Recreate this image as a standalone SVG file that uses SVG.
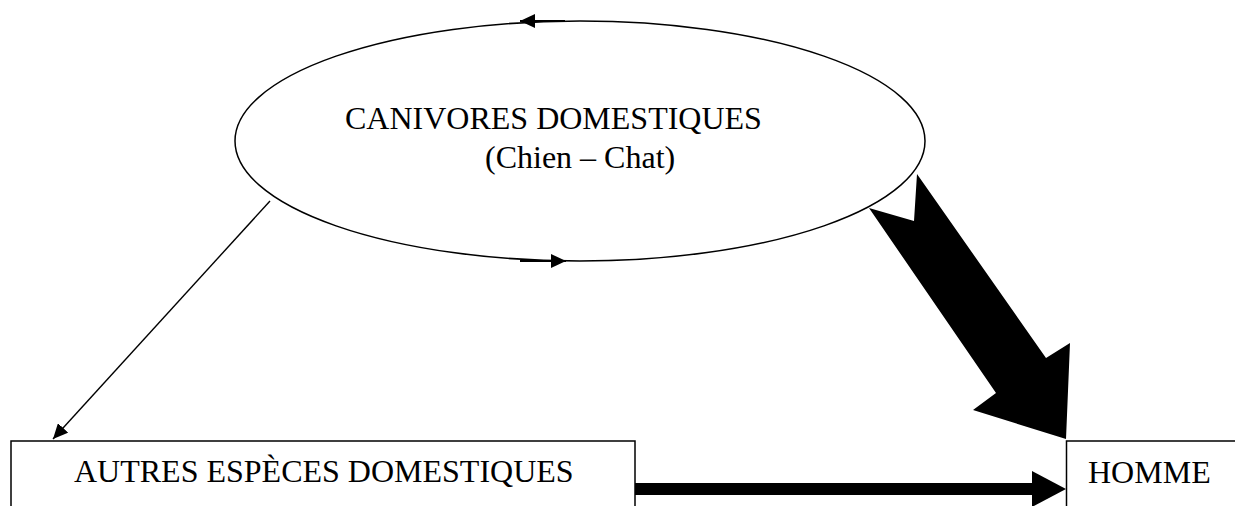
<svg xmlns="http://www.w3.org/2000/svg" width="1235" height="506" viewBox="0 0 1235 506">
<defs>
<style>
.lbl{font-family:"Liberation Serif","Times New Roman",serif;font-size:32px;fill:#000}
.shape{fill:#fff;stroke:#000;stroke-width:1.5}
.thin{stroke:#000;stroke-width:1.4;fill:none}
.mid{stroke:#000;stroke-width:2;fill:none}
</style>
<marker id="ah" markerUnits="userSpaceOnUse" markerWidth="16" markerHeight="14" refX="15" refY="7" orient="auto">
<path d="M0,0 L15,7 L0,14 z" fill="#000"/>
</marker>
</defs>
<rect width="1235" height="506" fill="#fff"/>
<g id="node-canivores">
<ellipse class="shape" cx="580" cy="141" rx="345" ry="120"/>
<text class="lbl" x="345" y="129">CANIVORES DOMESTIQUES</text>
<text class="lbl" x="485" y="168">(Chien – Chat)</text>
</g>
<g id="node-autres">
<rect class="shape" x="11" y="441" width="624" height="80"/>
<text class="lbl" x="74" y="482">AUTRES ESPÈCES DOMESTIQUES</text>
</g>
<g id="node-homme">
<rect class="shape" x="1066.5" y="441" width="180" height="80"/>
<text class="lbl" x="1088" y="483">HOMME</text>
</g>
<g id="connectors">
<line class="mid" x1="565" y1="21" x2="520" y2="21" marker-end="url(#ah)"/>
<line class="mid" x1="520" y1="261" x2="566" y2="261" marker-end="url(#ah)"/>
<line class="thin" x1="270" y1="201" x2="53" y2="439" marker-end="url(#ah)"/>
<polygon points="869,208 914,221 917,174 1046,358 1070,343 1066,439 973,410 996,393" fill="#000"/>
<rect x="635" y="483" width="398" height="12" fill="#000"/>
<polygon points="1032,471 1066,489 1032,507" fill="#000"/>
</g>
</svg>
